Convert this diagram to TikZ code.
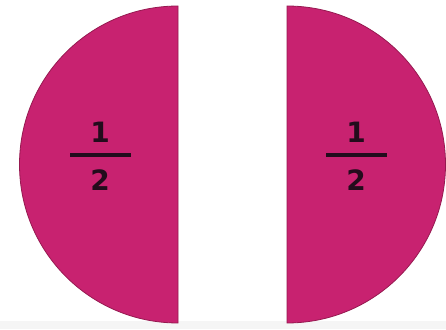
\documentclass[tikz,border=0pt]{standalone}
\usepackage{fontspec}
\setmainfont{DejaVu Sans}
\definecolor{half}{RGB}{200,34,112}
\definecolor{halfedge}{RGB}{150,25,80}
\definecolor{ink}{RGB}{35,12,28}
\begin{document}
\begin{tikzpicture}[x=1pt,y=1pt,
  halfpiece/.style={fill=half,draw=halfedge,line width=0.8pt},
  digit/.style={text=ink,font=\fontsize{28}{28}\selectfont\bfseries,inner sep=0pt},
  fracbar/.style={fill=ink,draw=none}]
\useasboundingbox (0,0) rectangle (446,329);
\fill[white] (0,0) rectangle (446,329);
\fill[black!4] (0,0) rectangle (446,8);
% left half
\filldraw[halfpiece] (178,323) arc[start angle=90,end angle=270,radius=158.5] -- cycle;
% right half
\filldraw[halfpiece] (287,323) arc[start angle=90,end angle=-90,radius=158.5] -- cycle;
% left fraction
\node[digit] (ln) at (100,197) {1};
\node[digit] (ld) at (100,149) {2};
\fill[fracbar] (70,172) rectangle (131,176);
% right fraction
\node[digit] (rn) at (356,197) {1};
\node[digit] (rd) at (356,149) {2};
\fill[fracbar] (326,172) rectangle (387,176);
\end{tikzpicture}
\end{document}
